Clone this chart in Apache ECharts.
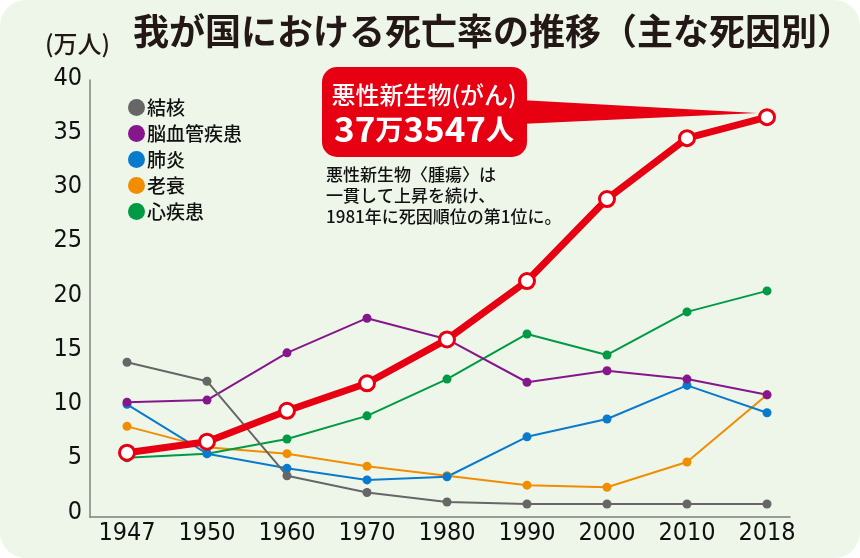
<!DOCTYPE html>
<html>
<head>
<meta charset="utf-8">
<script src="https://cdn.jsdelivr.net/npm/echarts@6/dist/echarts.min.js"></script>
<style>
html, body { margin: 0; padding: 0; background: #fff; }
#main { width: 860px; height: 558px; }
</style>
</head>
<body>
<div id="main"></div>
<script>
// データ（万人）
var years = ['1947', '1950', '1960', '1970', '1980', '1990', '2000', '2010', '2018'];
var yTicks = [0, 5, 10, 15, 20, 25, 30, 35, 40];
var gan = [5.39, 6.44, 9.38, 12.0, 16.18, 21.74, 29.55, 35.35, 37.35]; // 悪性新生物
var kekkaku = [14.0, 12.2, 3.2, 1.6, 0.7, 0.5, 0.5, 0.5, 0.5];
var noukekkan = [10.2, 10.4, 14.9, 18.2, 16.2, 12.1, 13.2, 12.4, 10.9];
var haien = [10.0, 5.3, 3.9, 2.8, 3.1, 6.9, 8.6, 11.8, 9.2];
var rousui = [7.9, 5.9, 5.3, 4.1, 3.2, 2.3, 2.1, 4.5, 10.9];
var shinshikkan = [4.9, 5.3, 6.7, 8.9, 12.4, 16.7, 14.7, 18.8, 20.8];

var jp = '"Noto Sans CJK JP", sans-serif';
var num = '"Liberation Sans Narrow", "DejaVu Sans Condensed", sans-serif';
var RED = '#e60012';

var myChart = echarts.init(document.getElementById('main'));

function thinLine(name, data, color) {
	return {
		name: name,
		type: 'line',
		data: data,
		symbol: 'circle',
		symbolSize: 9,
		lineStyle: { color: color, width: 2 },
		itemStyle: { color: color },
		xAxisIndex: 0,
		yAxisIndex: 0,
		animation: false
	};
}

var option = {
	backgroundColor: '#fff',
	animation: false,
	grid: [
		{ left: 87, width: 720, top: 89.3, height: 420 },   // データ
		{ left: 90, width: 700, top: 78, height: 434 },     // 目盛ラベル
		{ left: 90, width: 700, top: 80, height: 437 }      // 軸線
	],
	xAxis: [
		{
			gridIndex: 0, type: 'category', data: years, boundaryGap: true,
			axisLine: { show: false }, axisTick: { show: false },
			axisLabel: { margin: 12, fontSize: 25, color: '#111', fontFamily: num }
		},
		{ gridIndex: 1, type: 'value', show: false },
		{
			gridIndex: 2, type: 'value', min: 0, max: 1,
			axisLine: { show: true, lineStyle: { color: '#7f807c', width: 1.5 } },
			axisTick: { show: false }, axisLabel: { show: false }, splitLine: { show: false }
		}
	],
	yAxis: [
		{ gridIndex: 0, type: 'value', min: 0, max: 40, show: false },
		{
			gridIndex: 1, type: 'value', min: yTicks[0], max: yTicks[yTicks.length - 1], interval: 5,
			axisLine: { show: false }, axisTick: { show: false }, splitLine: { show: false },
			axisLabel: { margin: 8, fontSize: 25, color: '#111', fontFamily: num }
		},
		{
			gridIndex: 2, type: 'value', min: 0, max: 1,
			axisLine: { show: true, lineStyle: { color: '#7f807c', width: 1.5 } },
			axisTick: { show: false }, axisLabel: { show: false }, splitLine: { show: false }
		}
	],
	legend: {
		data: ['結核', '脳血管疾患', '肺炎', '老衰', '心疾患'],
		orient: 'vertical',
		left: 123,
		top: 93,
		icon: 'circle',
		itemWidth: 17,
		itemHeight: 17,
		itemGap: 7,
		textStyle: { fontSize: 19, fontWeight: 500, color: '#111', fontFamily: jp, padding: [0, 0, 0, -3] }
	},
	series: [
		thinLine('老衰', rousui, '#f18d00'),
		thinLine('心疾患', shinshikkan, '#009a44'),
		thinLine('肺炎', haien, '#0a7bcc'),
		thinLine('脳血管疾患', noukekkan, '#86168b'),
		thinLine('結核', kekkaku, '#666666'),
		{
			name: '悪性新生物',
			type: 'line',
			data: gan,
			symbol: 'circle',
			symbolSize: 15,
			lineStyle: { color: RED, width: 7 },
			itemStyle: { color: '#fff', borderColor: RED, borderWidth: 3 },
			z: 5,
			animation: false
		}
	],
	graphic: [
		{
			type: 'rect', z: -10, silent: true,
			shape: { x: 0, y: 0, width: 860, height: 558, r: 26 },
			style: { fill: '#eef6e9' }
		},
		{
			type: 'text', left: 133, top: 13,
			style: { text: '我が国における死亡率の推移（主な死因別）', fontSize: 36, fontWeight: 'bold', fontFamily: jp, fill: '#231815' }
		},
		{
			type: 'text', left: 45, top: 32,
			style: { text: '(万人)', fontSize: 24, fontWeight: 500, fontFamily: jp, fill: '#231815' }
		},
		{
			type: 'polygon', z: 20,
			shape: { points: [[520, 100], [757, 113], [520, 124]] },
			style: { fill: RED }
		},
		{
			type: 'rect', z: 20,
			shape: { x: 322, y: 67, width: 205, height: 90, r: 15 },
			style: { fill: RED }
		},
		{
			type: 'text', z: 21, x: 424, y: 95,
			style: {
				text: '悪性新生物(がん)', fontSize: 24, fontWeight: 500, fontFamily: jp,
				fill: '#fff', align: 'center', verticalAlign: 'middle'
			}
		},
		{
			type: 'text', z: 21, x: 424, y: 129,
			style: {
				text: '{a|37}{b|万}{a|3547}{b|人}',
				fill: '#fff', align: 'center', verticalAlign: 'middle',
				rich: {
					a: { fontSize: 35, fontWeight: 'bold', fontFamily: jp, fill: '#fff' },
					b: { fontSize: 28, fontWeight: 'bold', fontFamily: jp, fill: '#fff' }
				}
			}
		},
		{
			type: 'text', z: 21, x: 326, y: 164,
			style: {
				text: '悪性新生物〈腫瘍〉は\n一貫して上昇を続け、\n1981年に死因順位の第1位に。',
				fontSize: 17, lineHeight: 21, fontFamily: jp, fontWeight: 500, fill: '#111'
			}
		}
	]
};

myChart.setOption(option);
</script>
</body>
</html>
